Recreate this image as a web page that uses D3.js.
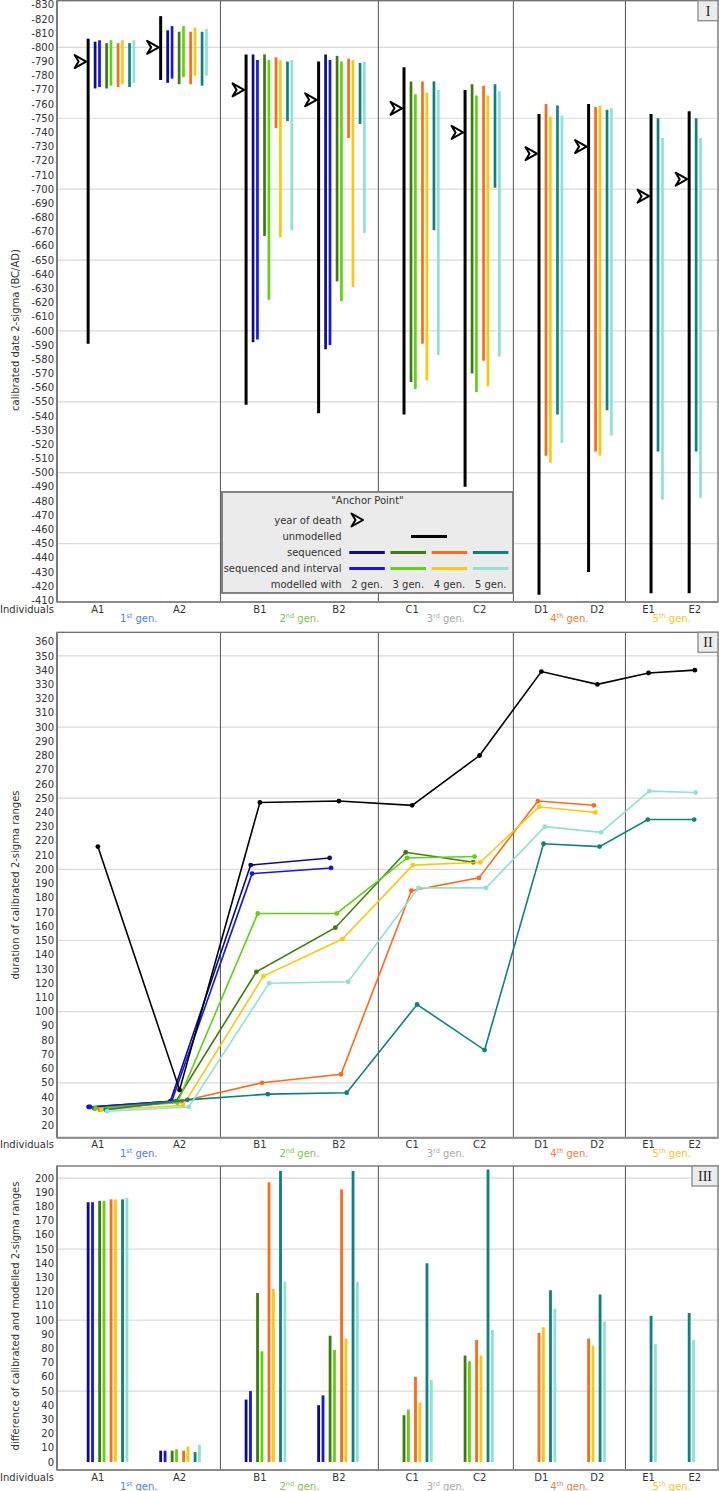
<!DOCTYPE html>
<html><head><meta charset="utf-8">
<script src="https://cdn.jsdelivr.net/npm/d3@7"></script>
<style>
body{margin:0;background:#fff;}
svg{display:block;font-family:"DejaVu Sans",Verdana,sans-serif;}
</style></head><body>
<svg id="chart" width="719" height="1491"></svg>
<script>
// ===== DATA =====
const individuals = ["A1","A2","B1","B2","C1","C2","D1","D2","E1","E2"];
const individualGen = [0,0,1,1,2,2,3,3,4,4];
const genNumber = ["1","2","3","4","5"];
const genSuffix = ["st","nd","rd","th","th"];

// Panel I: calibrated 2-sigma ranges (BC negative)
const yearOfDeath    = [-790,-800,-770,-763,-757,-740,-725,-730,-695,-707];
const unmodelledFrom = [-806,-822,-795,-790,-786,-770,-753,-760,-753,-755];
const unmodelledTo   = [-591,-777,-548,-542,-541,-490,-414,-430,-415,-415];
const seq2From = [-804,-812,-795,-795];
const seq2To   = [-771,-775,-592,-587];
const int2From = [-805,-815,-791,-791];
const int2To   = [-772,-778,-594,-590];
const seq3From = [-803,-811,-795,-794,-776,-774];
const seq3To   = [-771,-774,-667,-635,-564,-570];
const int3From = [-805,-815,-791,-790,-767,-766];
const int3To   = [-773,-779,-622,-621,-559,-557];
const seq4From = [-803,-811,-793,-792,-776,-773,-760,-758];
const seq4To   = [-772,-774,-743,-736,-591,-579,-512,-515];
const int4From = [-805,-814,-791,-791,-768,-766,-751,-759];
const int4To   = [-774,-780,-666,-631,-565,-561,-507,-512];
const seq5From = [-803,-811,-790,-789,-776,-774,-759,-756,-750,-750];
const seq5To   = [-772,-773,-748,-746,-671,-701,-541,-544,-515,-515];
const int5From = [-805,-813,-791,-790,-770,-769,-752,-757,-736,-736];
const int5To   = [-775,-780,-671,-669,-583,-582,-521,-526,-481,-482];

// Panel II: duration of calibrated 2-sigma ranges
const unmodelledDuration = [216,45,247,248,245,280,339,330,338,340];
const seq2Duration = [33,37,203,208];
const int2Duration = [33,37,197,201];
const seq3Duration = [32,37,128,159,212,205];
const int3Duration = [32,36,169,169,208,209];
const seq4Duration = [31,37,50,56,185,194,248,245];
const int4Duration = [31,34,125,151,203,205,244,240];
const seq5Duration = [31,38,42,43,105,73,218,216,235,235];
const int5Duration = [30,33,120,121,187,187,230,226,255,254];

// Panel III: difference of calibrated and modelled 2-sigma ranges
const seq2Diff = [183,8,44,40];
const int2Diff = [183,8,50,47];
const seq3Diff = [184,8,119,89,33,75];
const int3Diff = [184,9,78,79,37,71];
const seq4Diff = [185,8,197,192,60,86,91,87];
const int4Diff = [185,11,122,87,42,75,95,82];
const seq5Diff = [185,7,205,205,140,206,121,118,103,105];
const int5Diff = [186,12,127,127,58,93,108,99,83,86];

const yTicksI   = d3.range(-830, -409, 10);
const yTicksII  = d3.range(20, 361, 10);
const yTicksIII = d3.range(0, 201, 10);

// ===== STYLE =====
const colors = {seq2:"#0b0b8c", int2:"#1414f0", seq3:"#3a7d0c", int3:"#5ed40c",
                seq4:"#ff6a14", int4:"#ffc70a", seq5:"#0b8282", int5:"#8ee2d2"};
const genColors = ["#4a82e4","#7cc44a","#aaaaaa","#f47a34","#ffc21a"];
const textColor = "#333";

const series = [
  {key:"seq2",gen:2,int:false,from:seq2From,to:seq2To,dur:seq2Duration,diff:seq2Diff},
  {key:"int2",gen:2,int:true, from:int2From,to:int2To,dur:int2Duration,diff:int2Diff},
  {key:"seq3",gen:3,int:false,from:seq3From,to:seq3To,dur:seq3Duration,diff:seq3Diff},
  {key:"int3",gen:3,int:true, from:int3From,to:int3To,dur:int3Duration,diff:int3Diff},
  {key:"seq4",gen:4,int:false,from:seq4From,to:seq4To,dur:seq4Duration,diff:seq4Diff},
  {key:"int4",gen:4,int:true, from:int4From,to:int4To,dur:int4Duration,diff:int4Diff},
  {key:"seq5",gen:5,int:false,from:seq5From,to:seq5To,dur:seq5Duration,diff:seq5Diff},
  {key:"int5",gen:5,int:true, from:int5From,to:int5To,dur:int5Duration,diff:int5Diff}
];

// ===== LAYOUT (x in "units") =====
const LU = {outerLeft:5.5, outerRight:3.5, lead:25.7, first:7, pair:11.5, inPair:4.4, between:26.8, trail:14};
const presentGens = i => Array.from(new Set(series.filter(s => i < s.from.length).map(s => s.gen))).sort();
const groups = [];
let cum = 0;
d3.range(5).forEach(g => {
  const members = individuals.map((d,i)=>i).filter(i => individualGen[i] === g);
  const nG = presentGens(members[0]).length;
  const span = LU.first + LU.pair*(nG-1) + LU.inPair;
  const padL = g === 0 ? LU.outerLeft : 0, padR = g === 4 ? LU.outerRight : 0;
  const width = padL + LU.lead + span + LU.between + span + LU.trail + padR;
  const black0 = cum + padL + LU.lead;
  groups.push({g, members, start:cum, width, end:cum+width,
    black:[black0, black0 + span + LU.between],
    label:[cum + width*0.25, cum + width*0.75]});
  cum += width;
});
const indInfo = individuals.map((name,i) => {
  const gr = groups[individualGen[i]]; const k = gr.members.indexOf(i);
  return {name, i, black: gr.black[k], label: gr.label[k], gens: presentGens(i)};
});

const X0 = 57, X1 = 718;
const x = d3.scaleLinear().domain([0, cum]).range([X0, X1]);

const svg = d3.select("#chart");

// ===== helpers =====
function drawFrame(top, bottom, yScale, ticks, grids, title, titleY, roman, romanW) {
  const g = svg.append("g");
  g.selectAll("line.grid").data(grids).join("line")
    .attr("x1", X0).attr("x2", X1).attr("y1", d => yScale(d)).attr("y2", d => yScale(d))
    .attr("stroke", "#dadada").attr("stroke-width", 1.2);
  // group separators
  g.selectAll("line.sep").data(groups.slice(0,4)).join("line")
    .attr("x1", d => x(d.end)).attr("x2", d => x(d.end)).attr("y1", top).attr("y2", bottom)
    .attr("stroke", "#555").attr("stroke-width", 1);
  g.append("rect").attr("x", X0).attr("y", top).attr("width", X1 - X0).attr("height", bottom - top)
    .attr("fill", "none").attr("stroke", "#6a6a6a").attr("stroke-width", 1.3);
  g.append("line").attr("x1", X0).attr("x2", X0).attr("y1", top).attr("y2", bottom).attr("stroke", "#7a7a7a").attr("stroke-width", 2);
  g.append("line").attr("x1", X0).attr("x2", X1).attr("y1", bottom).attr("y2", bottom).attr("stroke", "#8a8a8a").attr("stroke-width", 2);
  // y tick labels
  g.selectAll("text.tick").data(ticks).join("text")
    .attr("x", 54).attr("y", d => yScale(d)).attr("dy", "0.36em").attr("text-anchor", "end")
    .attr("font-size", 10).attr("fill", textColor).text(d => d);
  // x labels
  g.append("text").attr("x", 54).attr("y", bottom + 10.5).attr("text-anchor", "end")
    .attr("font-size", 10).attr("fill", textColor).text("Individuals");
  g.selectAll("text.ind").data(indInfo).join("text")
    .attr("x", d => x(d.label)).attr("y", bottom + 10.5).attr("text-anchor", "middle")
    .attr("font-size", 10).attr("fill", textColor).text(d => d.name);
  const gl = g.selectAll("text.gen").data(groups).join("text")
    .attr("x", d => x(d.start + d.width/2)).attr("y", bottom + 19.5).attr("text-anchor", "middle")
    .attr("font-size", 10).attr("fill", d => genColors[d.g]);
  gl.append("tspan").text(d => genNumber[d.g]);
  gl.append("tspan").attr("font-size", 6.5).attr("dy", -4).text(d => genSuffix[d.g]);
  gl.append("tspan").attr("dy", 4).text(" gen.");
  // axis title
  g.append("text").attr("transform", `translate(19,${titleY}) rotate(-90)`).attr("text-anchor", "middle")
    .attr("font-size", 10).attr("fill", textColor).text(title);
  // roman label
  g.append("rect").attr("x", X1 - romanW).attr("y", top).attr("width", romanW).attr("height", 20)
    .attr("fill", "#ececec").attr("stroke", "#8a8a8a").attr("stroke-width", 1.3);
  g.append("text").attr("x", X1 - romanW/2).attr("y", top + 15).attr("text-anchor", "middle")
    .attr("font-family", "'Liberation Serif','DejaVu Serif',serif").attr("font-size", 14).attr("fill", "#222").text(roman);
}
const markerPath = "M0,0 L-11.5,-6.5 L-7.5,0 L-11.5,6.5 Z";

// ===== PANEL I =====
const topI = 0.7, botI = 602;
const yI = d3.scaleLinear().domain([-833.4, -408.8]).range([0, 602]);
drawFrame(topI, botI, yI, yTicksI, d3.range(-800, -449, 50), "calibrated date 2-sigma (BC/AD)", 330, "I", 20);

const pI = svg.append("g");
pI.selectAll("line.unmod").data(indInfo).join("line")
  .attr("x1", d => x(d.black)).attr("x2", d => x(d.black))
  .attr("y1", d => yI(unmodelledFrom[d.i])).attr("y2", d => yI(unmodelledTo[d.i]))
  .attr("stroke", "#000").attr("stroke-width", 3);
const barsI = [];
indInfo.forEach(d => {
  series.forEach(s => {
    if (d.i < s.from.length) {
      const j = d.gens.indexOf(s.gen);
      barsI.push({s, i:d.i, u: d.black + LU.first + LU.pair*j + (s.int ? LU.inPair : 0),
                  u3: d.black + LU.pair*j + (s.int ? LU.inPair : 0)});
    }
  });
});
pI.selectAll("line.mod").data(barsI).join("line")
  .attr("x1", d => x(d.u)).attr("x2", d => x(d.u))
  .attr("y1", d => yI(d.s.from[d.i])).attr("y2", d => yI(d.s.to[d.i]))
  .attr("stroke", d => colors[d.s.key]).attr("stroke-width", 2.7);
pI.selectAll("path.death").data(indInfo).join("path")
  .attr("d", markerPath)
  .attr("transform", d => `translate(${x(d.black) - 2},${yI(yearOfDeath[d.i])})`)
  .attr("fill", "#fff").attr("stroke", "#000").attr("stroke-width", 2).attr("stroke-linejoin", "round");

// legend
const lg = svg.append("g");
lg.append("rect").attr("x", 222).attr("y", 492).attr("width", 291).attr("height", 101)
  .attr("fill", "#ebebeb").attr("stroke", "#777").attr("stroke-width", 1.8);
lg.append("text").attr("x", 367.5).attr("y", 504.3).attr("text-anchor", "middle").attr("font-size", 10).attr("fill", textColor).text('"Anchor Point"');
const legRows = [["year of death",523.6],["unmodelled",539.6],["sequenced",555.6],["sequenced and interval",571.9],["modelled with",587.6]];
lg.selectAll("text.row").data(legRows).join("text")
  .attr("x", 341.5).attr("y", d => d[1]).attr("text-anchor", "end").attr("font-size", 10).attr("fill", textColor).text(d => d[0]);
lg.append("path").attr("d", markerPath).attr("transform", "translate(363,520)")
  .attr("fill", "#fff").attr("stroke", "#000").attr("stroke-width", 2).attr("stroke-linejoin", "round");
lg.append("line").attr("x1", 411).attr("x2", 447).attr("y1", 536.5).attr("y2", 536.5).attr("stroke", "#000").attr("stroke-width", 3);
const legCols = [2,3,4,5];
const colX = c => 349.3 + (c-2)*41.2;
lg.selectAll("line.seq").data(legCols).join("line")
  .attr("x1", c => colX(c)).attr("x2", c => colX(c) + 35.5).attr("y1", 552.5).attr("y2", 552.5)
  .attr("stroke", c => colors["seq"+c]).attr("stroke-width", 3);
lg.selectAll("line.int").data(legCols).join("line")
  .attr("x1", c => colX(c)).attr("x2", c => colX(c) + 35.5).attr("y1", 568.5).attr("y2", 568.5)
  .attr("stroke", c => colors["int"+c]).attr("stroke-width", 3);
lg.selectAll("text.col").data(legCols).join("text")
  .attr("x", c => colX(c) + 17.8).attr("y", 587.6).attr("text-anchor", "middle").attr("font-size", 10).attr("fill", textColor)
  .text(c => c + " gen.");

// ===== PANEL II =====
const topII = 632.3, botII = 1137.7;
const yII = d3.scaleLinear().domain([11.4, 366.6]).range([botII, topII]);
drawFrame(topII, botII, yII, yTicksII, d3.range(50, 351, 50), "duration of calibrated 2-sigma ranges", 885, "II", 20);
const pII = svg.append("g");
const line = d3.line().x(d => d[0]).y(d => d[1]);
const blackPts = indInfo.map(d => [x(d.label), yII(unmodelledDuration[d.i])]);
const linesII = [{color:"#000", pts:blackPts}];
series.forEach(s => {
  const pts = s.dur.map((v,i) => {
    const info = indInfo[i]; const n = info.gens.length; const j = info.gens.indexOf(s.gen);
    return [x(info.label + (j - (n-1)/2)*5.7 + (s.int ? 0.7 : -0.7)), yII(v)];
  });
  linesII.push({color: colors[s.key], pts});
});
// draw colored first, black on top? reference: black drawn first
const order = [1,2,3,4,5,6,7,8,0];
order.forEach(k => {
  const L = linesII[k];
  pII.append("path").attr("d", line(L.pts)).attr("fill", "none").attr("stroke", L.color).attr("stroke-width", 1.6);
  pII.selectAll(null).data(L.pts).join("circle").attr("cx", d => d[0]).attr("cy", d => d[1]).attr("r", 2.4).attr("fill", L.color);
});

// ===== PANEL III =====
const topIII = 1166, botIII = 1470;
const yIII = d3.scaleLinear().domain([-5.6, 208.5]).range([botIII, topIII]);
drawFrame(topIII, botIII, yIII, yTicksIII, d3.range(50, 201, 50), "difference of calibrated and modelled 2-sigma ranges", 1316, "III", 26);
const pIII = svg.append("g");
pIII.selectAll("rect.diff").data(barsI).join("rect")
  .attr("x", d => x(d.u3) - 1.4).attr("width", 2.8)
  .attr("y", d => yIII(d.s.diff[d.i])).attr("height", d => yIII(0) - yIII(d.s.diff[d.i]))
  .attr("fill", d => colors[d.s.key]);
</script>
</body></html>
